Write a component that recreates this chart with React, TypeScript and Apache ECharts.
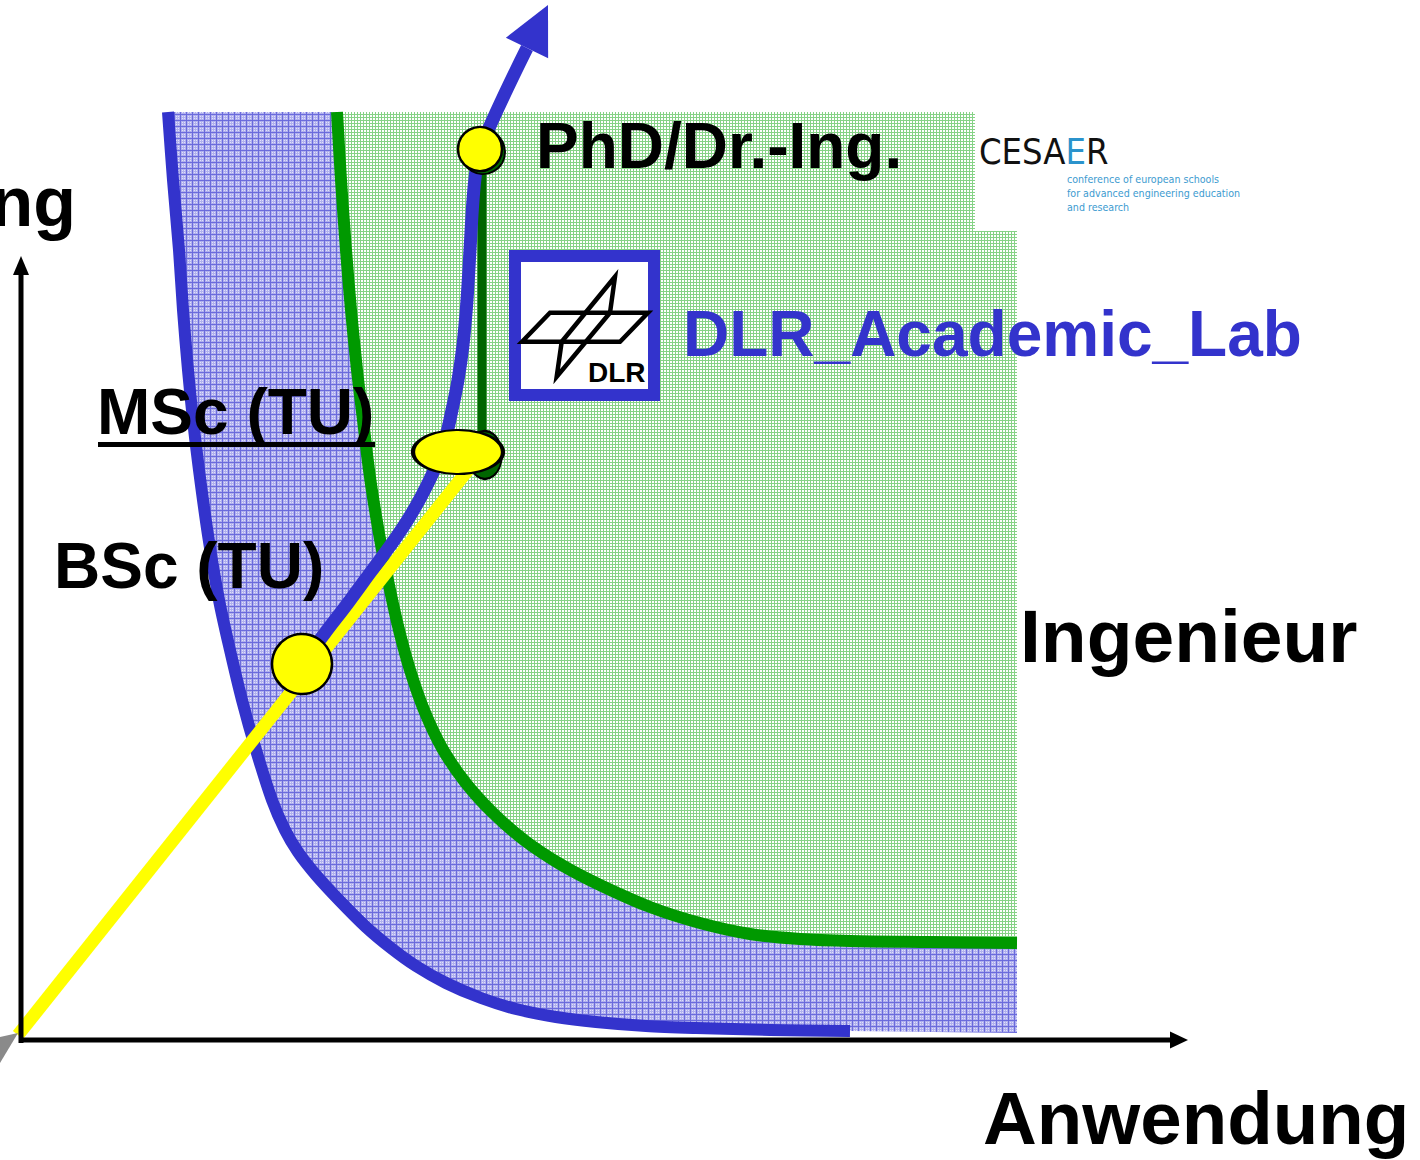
import React, { useEffect, useRef } from "react";
import * as echarts from "echarts";

// Chart coordinates: origin where the two axes cross, 1 unit = 1 px.
// x = Anwendung (application), y = Forschung (research)

const blueCurve = [
  [148, 928], [153, 860], [159, 790], [163, 730], [168, 670], [173, 620],
  [179, 570], [188, 505], [199, 440], [210, 390], [222, 340], [236, 290],
  [252, 240], [265, 210], [278, 188], [296, 165], [319, 140], [346, 113],
  [371, 92], [396, 74], [426, 57], [461, 42], [496, 31], [536, 23],
  [576, 18], [626, 14], [676, 12], [750, 10], [830, 9],
];

const greenCurve = [
  [317, 928], [321, 860], [326, 790], [331, 730], [337, 670], [343, 620],
  [349, 570], [355, 530], [362, 490], [370, 450], [379, 410], [390, 370],
  [404, 330], [422, 292], [445, 258], [472, 228], [504, 200], [540, 176],
  [580, 155], [630, 133], [680, 117], [730, 106], [780, 101], [830, 99],
  [910, 98], [997, 97],
];

const regionCorners = { right: 997, bottom: 7, top: 928 };

const yellowPath = [[-2, 5], [448, 570]];

const bluePath = [
  [282, 376], [305, 407], [328, 437], [350, 467], [370, 494], [387, 519],
  [402, 545], [415, 572], [425, 600], [432, 630], [438, 660], [443, 695],
  [447, 740], [450, 790], [453, 840], [456, 870], [460, 891], [507, 992],
];
const blueArrow = [[528, 1035, 507, 992]]; // tip x, tip y, base x, base y

const greenStem = [[462, 891], [462, 585]];

const xAxisLine = [[1, 0], [1152, 0]];
const xAxisArrow = [[1168, 0, 1150, 0]];
const yAxisLine = [[1, -3], [1, 767]];
const yAxisArrow = [[1, 784, 1, 765]];

const greyTip = [[-20, 3], [-2, 7], [-20, -23]];

const bscPoint = [[282, 376]];
const mscPoint = [[438, 588]];
const mscShadow = [[465, 585]];
const phdPoint = [[460, 891]];
const phdShadow = [[463, 888]];

const BLUE = "#3333cc";
const GREEN = "#009900";
const DARKGREEN = "#006600";
const YELLOW = "#ffff00";
const FONT = "'Liberation Sans', Arial, Helvetica, sans-serif";
const NARROW = "'Liberation Sans Narrow', 'DejaVu Sans Condensed', 'Liberation Sans', sans-serif";

function makeTile(size: number, bg: string, line: string, dots: number[][], dotColor: string) {
  const c = document.createElement("canvas");
  c.width = size;
  c.height = size;
  const ctx = c.getContext("2d")!;
  ctx.fillStyle = bg;
  ctx.fillRect(0, 0, size, size);
  ctx.fillStyle = line;
  ctx.fillRect(0, 0, size, 1);
  ctx.fillRect(0, 0, 1, size);
  ctx.fillStyle = dotColor;
  dots.forEach(([x, y]) => ctx.fillRect(x, y, 1, 1));
  return { image: c.toDataURL(), repeat: "repeat", imageWidth: size, imageHeight: size };
}

function polygonSeries(points: number[][], fill: any, z: number) {
  return {
    type: "custom",
    coordinateSystem: "cartesian2d",
    silent: true,
    z,
    data: [[0, 0]],
    renderItem: (_p: any, api: any) => ({
      type: "polygon",
      shape: { points: points.map((p) => api.coord(p)) },
      style: { fill },
    }),
  };
}

function curveSeries(points: number[][], color: string, width: number, z: number, smooth = 0) {
  return {
    type: "custom",
    coordinateSystem: "cartesian2d",
    silent: true,
    z,
    data: [[0, 0]],
    renderItem: (_p: any, api: any) => ({
      type: "polyline",
      shape: { points: points.map((p) => api.coord(p)), smooth },
      style: { stroke: color, lineWidth: width, fill: null, lineCap: "butt", lineJoin: "round" },
    }),
  };
}

function arrowSeries(data: number[][], halfWidth: number, color: string, z: number) {
  return {
    type: "custom",
    coordinateSystem: "cartesian2d",
    silent: true,
    z,
    data,
    renderItem: (_p: any, api: any) => {
      const tip = api.coord([api.value(0), api.value(1)]);
      const base = api.coord([api.value(2), api.value(3)]);
      const dx = tip[0] - base[0];
      const dy = tip[1] - base[1];
      const len = Math.hypot(dx, dy) || 1;
      const nx = (-dy / len) * halfWidth;
      const ny = (dx / len) * halfWidth;
      return {
        type: "polygon",
        shape: { points: [tip, [base[0] + nx, base[1] + ny], [base[0] - nx, base[1] - ny]] },
        style: { fill: color },
      };
    },
  };
}

function pointSeries(data: number[][], size: any, fill: string, border: number, z: number) {
  return {
    type: "scatter",
    data,
    symbol: "circle",
    symbolSize: size,
    silent: true,
    z,
    itemStyle: { color: fill, borderColor: "#000", borderWidth: border, opacity: 1 },
  };
}

export default function App() {
  const ref = useRef<HTMLDivElement>(null);

  useEffect(() => {
    if (!ref.current) return;
    const chart = echarts.init(ref.current, null, { renderer: "svg" });

    const bluePattern = makeTile(
      6, "#b0b0ee", "#6b6bdc",
      [[2, 2], [4, 4], [2, 4], [4, 2]], "#e0e0fa"
    );
    const greenPattern = makeTile(3, "#ffffff", "#86d286", [], "#ffffff");

    const { right, bottom, top } = regionCorners;
    const greenRegion = [...greenCurve, [right, top]];
    const blueRegion = [
      ...blueCurve,
      [right, bottom],
      ...greenCurve.slice().reverse(),
    ];

    const option: any = {
      animation: false,
      grid: { left: 0, right: 0, top: 0, bottom: 0, containLabel: false },
      xAxis: { type: "value", min: -20, max: 1400, show: false },
      yAxis: { type: "value", min: -120, max: 1040, show: false },
      series: [
        polygonSeries(greenRegion, greenPattern, 1),
        polygonSeries(blueRegion, bluePattern, 2),
        curveSeries(blueCurve, BLUE, 12, 3, 0.3),
        curveSeries(greenCurve, GREEN, 12, 3, 0.3),
        curveSeries(yellowPath, YELLOW, 13, 4),
        curveSeries(greenStem, DARKGREEN, 9, 5),
        curveSeries(bluePath, BLUE, 13, 5, 0.4),
        arrowSeries(blueArrow, 23.5, BLUE, 5),
        curveSeries(xAxisLine, "#000", 5, 6),
        arrowSeries(xAxisArrow, 8.5, "#000", 6),
        curveSeries(yAxisLine, "#000", 5, 6),
        arrowSeries(yAxisArrow, 8, "#000", 6),
        polygonSeries(greyTip, "#8a8a8a", 6),
        pointSeries(mscShadow, [34, 48], DARKGREEN, 2, 7),
        pointSeries(mscPoint, [90, 44], YELLOW, 3, 8),
        pointSeries(phdShadow, 44, DARKGREEN, 2, 7),
        pointSeries(phdPoint, 44, YELLOW, 2.5, 8),
        pointSeries(bscPoint, 60, YELLOW, 2.5, 8),
      ],
      graphic: [
        // CESAER logo
        { type: "rect", z: 50, silent: true, shape: { x: 975, y: 100, width: 300, height: 131 }, style: { fill: "#fff" } },
        {
          type: "text", z: 60, silent: true,
          style: {
            x: 979, y: 151, verticalAlign: "middle", align: "left",
            text: "{a|CESA}{b|E}{a|R}",
            rich: {
              a: { fontSize: 36, fontFamily: NARROW, fill: "#111" },
              b: { fontSize: 36, fontFamily: NARROW, fill: "#2b93cc" },
            },
          },
        },
        {
          type: "text", z: 60, silent: true,
          style: {
            x: 1067, y: 172, verticalAlign: "top", align: "left",
            text: "conference of european schools\nfor advanced engineering education\nand research",
            fontSize: 10.6, lineHeight: 14, fontFamily: NARROW, fill: "#3d9bd0",
          },
        },
        // DLR logo
        { type: "rect", z: 50, silent: true, shape: { x: 515, y: 256, width: 139, height: 139 }, style: { fill: "#fff", stroke: BLUE, lineWidth: 12 } },
        {
          type: "polygon", z: 55, silent: true,
          shape: { points: [[522, 341.7], [550, 312.7], [648, 312.7], [620, 341.7]] },
          style: { fill: "none", stroke: "#000", lineWidth: 4.5, lineJoin: "miter" },
        },
        {
          type: "polygon", z: 55, silent: true,
          shape: { points: [[615, 276.7], [610, 312.7], [556.7, 376.7], [561.7, 341.7]] },
          style: { fill: "none", stroke: "#000", lineWidth: 4.5, lineJoin: "miter" },
        },
        {
          type: "text", z: 60, silent: true,
          style: { x: 588, y: 372, text: "DLR", fontSize: 28, fontWeight: "bold", fontFamily: FONT, fill: "#000", verticalAlign: "middle", align: "left" },
        },
        // labels
        {
          type: "text", z: 60, silent: true,
          style: { x: 536, y: 146, text: "PhD/Dr.-Ing.", fontSize: 64, fontWeight: "bold", fontFamily: FONT, fill: "#000", verticalAlign: "middle", align: "left" },
        },
        {
          type: "text", z: 60, silent: true,
          style: { x: 683, y: 334, text: "DLR_Academic_Lab", fontSize: 64, fontWeight: "bold", fontFamily: FONT, fill: BLUE, verticalAlign: "middle", align: "left" },
        },
        {
          type: "text", z: 60, silent: true,
          style: { x: 97, y: 412, text: "MSc (TU)", fontSize: 64, fontWeight: "bold", fontFamily: FONT, fill: "#000", verticalAlign: "middle", align: "left" },
        },
        { type: "line", z: 60, silent: true, shape: { x1: 98, y1: 444.5, x2: 375, y2: 444.5 }, style: { stroke: "#000", lineWidth: 5 } },
        {
          type: "text", z: 60, silent: true,
          style: { x: 54, y: 566, text: "BSc (TU)", fontSize: 64, fontWeight: "bold", fontFamily: FONT, fill: "#000", verticalAlign: "middle", align: "left" },
        },
        {
          type: "text", z: 60, silent: true,
          style: { x: 1020, y: 636, text: "Ingenieur", fontSize: 75, fontWeight: "bold", fontFamily: FONT, fill: "#000", verticalAlign: "middle", align: "left" },
        },
        {
          type: "text", z: 60, silent: true,
          style: { x: 983, y: 1118, text: "Anwendung", fontSize: 74.5, fontWeight: "bold", fontFamily: FONT, fill: "#000", verticalAlign: "middle", align: "left" },
        },
        {
          type: "text", z: 60, silent: true,
          style: { x: 76, y: 202, text: "Forschung", fontSize: 70, fontWeight: "bold", fontFamily: FONT, fill: "#000", verticalAlign: "middle", align: "right" },
        },
      ],
    };

    chart.setOption(option);
    return () => chart.dispose();
  }, []);

  return (
    <div
      ref={ref}
      style={{ position: "absolute", left: 0, top: 0, width: 1420, height: 1160 }}
    />
  );
}
